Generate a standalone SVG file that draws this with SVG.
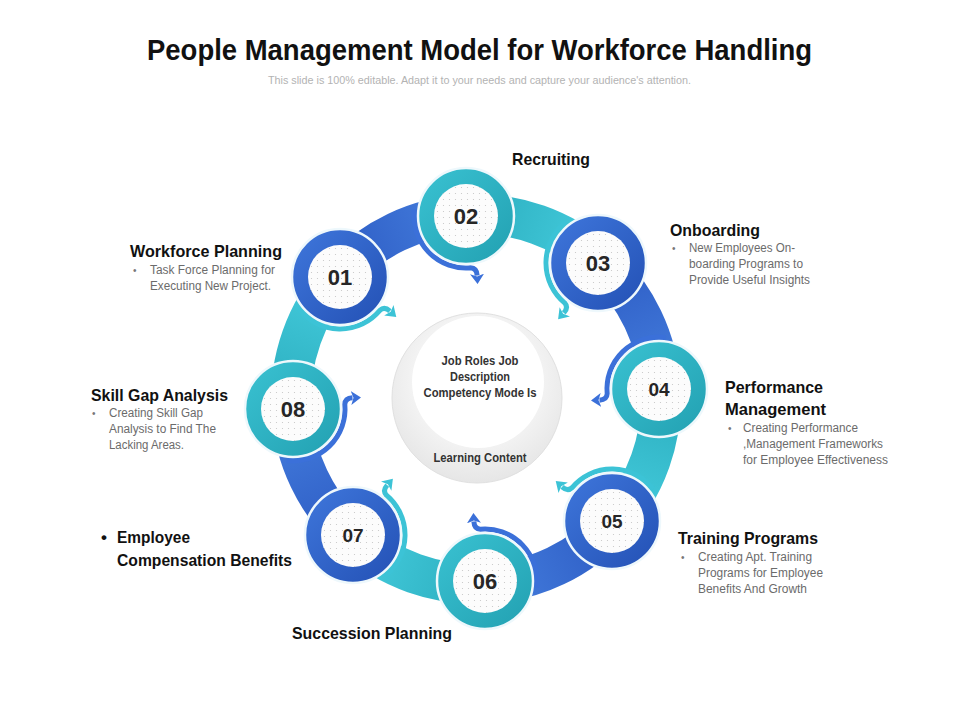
<svg xmlns="http://www.w3.org/2000/svg" width="960" height="720" viewBox="0 0 960 720">
  <defs>
    <style>
      .title{font-family:"Liberation Sans",Arial,sans-serif;font-weight:bold;fill:#111;}
      .sub{font-family:"Liberation Sans",Arial,sans-serif;font-size:11px;fill:#b3b3b3;}
      .head{font-family:"Liberation Sans",Arial,sans-serif;font-weight:bold;font-size:17px;fill:#111;}
      .body{font-family:"Liberation Sans",Arial,sans-serif;font-size:12px;fill:#6b6b6b;}
      .bul{font-family:"Liberation Sans",Arial,sans-serif;font-size:10px;fill:#777;}
      .ctr{font-family:"Liberation Sans",Arial,sans-serif;font-weight:bold;font-size:12px;fill:#333;}
      .num{font-family:"Liberation Sans",Arial,sans-serif;font-weight:bold;fill:#262626;text-anchor:middle;}
      .big{font-size:22px;}
      .small{font-size:19px;}
      .arrow{fill:none;stroke-width:5;stroke-linecap:butt;}
      .ab{stroke:#3b70d9;}
      .ac{stroke:#3cc3d6;}
      .ringb{fill:url(#gNodeB);stroke:#eef8fc;stroke-width:2.5;}
      .ringt{fill:url(#gNodeT);stroke:#eef8fc;stroke-width:2.5;}
      .inner{fill:#fcfcfc;}
      .dots{fill:url(#dotPat);}
    </style>
    <linearGradient id="gSegB" gradientUnits="userSpaceOnUse" x1="0" y1="320" x2="0" y2="478">
      <stop offset="0" stop-color="#2b59c2"/>
      <stop offset="1" stop-color="#4680df"/>
    </linearGradient>
    <linearGradient id="gSegC" gradientUnits="userSpaceOnUse" x1="0" y1="320" x2="0" y2="478">
      <stop offset="0" stop-color="#2aacbd"/>
      <stop offset="1" stop-color="#47cfe0"/>
    </linearGradient>
    <linearGradient id="gNodeB" x1="0" y1="0" x2="1" y2="1">
      <stop offset="0" stop-color="#3f77dc"/>
      <stop offset="1" stop-color="#2350b4"/>
    </linearGradient>
    <linearGradient id="gNodeT" x1="0" y1="0" x2="1" y2="1">
      <stop offset="0" stop-color="#3ac2d2"/>
      <stop offset="1" stop-color="#22a0b1"/>
    </linearGradient>
    <radialGradient id="gCenter" cx="0.5" cy="0.4" r="0.6">
      <stop offset="0.6" stop-color="#f4f4f4"/>
      <stop offset="1" stop-color="#e6e6e6"/>
    </radialGradient>
    <pattern id="dotPat" width="6" height="6" patternUnits="userSpaceOnUse">
      <circle cx="1.5" cy="1.5" r="0.6" fill="#c4c4c4"/>
    </pattern>
    <marker id="mB" markerWidth="11" markerHeight="14" refX="1.5" refY="7" orient="auto" markerUnits="userSpaceOnUse">
      <path d="M0,0 L10,7 L0,14 L2.5,7 Z" fill="#3b70d9"/>
    </marker>
    <marker id="mC" markerWidth="11" markerHeight="14" refX="1.5" refY="7" orient="auto" markerUnits="userSpaceOnUse">
      <path d="M0,0 L10,7 L0,14 L2.5,7 Z" fill="#3cc3d6"/>
    </marker>
    <path id="seg" d="M665.4,320.55 A205,205 0 0 1 665.4,477.45 L628.44,462.14 A165,165 0 0 0 628.44,335.86 Z"/>
    <path id="arr" d="M-9.03,51.21 A52,52 0 0 0 51.97,-1.81 Q52.5,-8 60,-8"/>
  </defs>

  <rect width="960" height="720" fill="#ffffff"/>

  <g id="title">
    <text class="title" x="147" y="60" font-size="30" textLength="665" lengthAdjust="spacingAndGlyphs">People Management Model for Workforce Handling</text>
    <text class="sub" x="268" y="84" textLength="423" lengthAdjust="spacingAndGlyphs">This slide is 100% editable. Adapt it to your needs and capture your audience's attention.</text>
  </g>

  <g id="center">
    <circle cx="477" cy="398" r="85" fill="url(#gCenter)" stroke="#e0e0e0" stroke-width="1"/>
    <circle cx="478" cy="382" r="66" fill="#ffffff"/>
    <text class="ctr" x="441.5" y="365" textLength="77" lengthAdjust="spacingAndGlyphs">Job Roles Job</text>
    <text class="ctr" x="450" y="381" textLength="60" lengthAdjust="spacingAndGlyphs">Description</text>
    <text class="ctr" x="423.5" y="397" textLength="113" lengthAdjust="spacingAndGlyphs">Competency Mode Is</text>
    <text class="ctr" x="433.5" y="462" textLength="93" lengthAdjust="spacingAndGlyphs">Learning Content</text>
  </g>

  <g id="connectors">
    <use href="#seg" fill="url(#gSegB)" transform="rotate(-115.5 476 399)"/>
    <use href="#seg" fill="url(#gSegC)" transform="rotate(-70.5 476 399)"/>
    <use href="#seg" fill="url(#gSegB)" transform="rotate(-25.5 476 399)"/>
    <use href="#seg" fill="url(#gSegC)" transform="rotate(19.5 476 399)"/>
    <use href="#seg" fill="url(#gSegB)" transform="rotate(64.5 476 399)"/>
    <use href="#seg" fill="url(#gSegC)" transform="rotate(109.5 476 399)"/>
    <use href="#seg" fill="url(#gSegB)" transform="rotate(154.5 476 399)"/>
    <use href="#seg" fill="url(#gSegC)" transform="rotate(199.5 476 399)"/>
    <!-- arrows toward center, colour of incoming band -->
    <path class="arrow ac" marker-end="url(#mC)" d="M-9.03,51.21 A52,52 0 0 0 51.97,-1.81 Q52.5,-8 60,-8" transform="translate(340,277) rotate(42)"/>
    <path class="arrow ab" marker-end="url(#mB)" d="M-9.03,51.21 A52,52 0 0 0 51.97,-1.81 Q52.5,-8 60,-8" transform="translate(466,216) rotate(87)"/>
    <path class="arrow ac" marker-end="url(#mC)" d="M-9.03,51.21 A52,52 0 0 0 51.97,-1.81 Q52.5,-8 60,-8" transform="translate(598,263) rotate(132)"/>
    <path class="arrow ab" marker-end="url(#mB)" d="M-9.03,51.21 A52,52 0 0 0 51.97,-1.81 Q52.5,-8 60,-8" transform="translate(659,389) rotate(177)"/>
    <path class="arrow ac" marker-end="url(#mC)" d="M-9.03,51.21 A52,52 0 0 0 51.97,-1.81 Q52.5,-8 60,-8" transform="translate(612,521) rotate(222)"/>
    <path class="arrow ab" marker-end="url(#mB)" d="M-9.03,51.21 A52,52 0 0 0 51.97,-1.81 Q52.5,-8 60,-8" transform="translate(485,581) rotate(267)"/>
    <path class="arrow ac" marker-end="url(#mC)" d="M-9.03,51.21 A52,52 0 0 0 51.97,-1.81 Q52.5,-8 60,-8" transform="translate(353,535) rotate(312)"/>
    <path class="arrow ab" marker-end="url(#mB)" d="M-9.03,51.21 A52,52 0 0 0 51.97,-1.81 Q52.5,-8 60,-8" transform="translate(293,409) rotate(357)"/>
  </g>

  <g id="node01" transform="translate(340,277)">
    <circle class="ringb" r="48"/>
    <circle class="inner" r="32"/><circle class="dots" r="32"/>
    <text class="num big" y="8">01</text>
  </g>
  <g id="node02" transform="translate(466,216)">
    <circle class="ringt" r="48"/>
    <circle class="inner" r="32"/><circle class="dots" r="32"/>
    <text class="num big" y="8">02</text>
  </g>
  <g id="node03" transform="translate(598,263)">
    <circle class="ringb" r="48"/>
    <circle class="inner" r="32"/><circle class="dots" r="32"/>
    <text class="num big" y="8">03</text>
  </g>
  <g id="node04" transform="translate(659,389)">
    <circle class="ringt" r="48"/>
    <circle class="inner" r="32"/><circle class="dots" r="32"/>
    <text class="num small" y="7">04</text>
  </g>
  <g id="node05" transform="translate(612,521)">
    <circle class="ringb" r="48"/>
    <circle class="inner" r="32"/><circle class="dots" r="32"/>
    <text class="num small" y="7">05</text>
  </g>
  <g id="node06" transform="translate(485,581)">
    <circle class="ringt" r="48"/>
    <circle class="inner" r="32"/><circle class="dots" r="32"/>
    <text class="num big" y="8">06</text>
  </g>
  <g id="node07" transform="translate(353,535)">
    <circle class="ringb" r="48"/>
    <circle class="inner" r="32"/><circle class="dots" r="32"/>
    <text class="num small" y="7">07</text>
  </g>
  <g id="node08" transform="translate(293,409)">
    <circle class="ringt" r="48"/>
    <circle class="inner" r="32"/><circle class="dots" r="32"/>
    <text class="num big" y="8">08</text>
  </g>

  <g id="labels">
    <text class="head" x="512" y="165" textLength="78" lengthAdjust="spacingAndGlyphs">Recruiting</text>

    <text class="head" x="670" y="236" textLength="90" lengthAdjust="spacingAndGlyphs">Onboarding</text>
    <text class="bul" x="672" y="252">•</text>
    <text class="body" x="689" y="252" textLength="106" lengthAdjust="spacingAndGlyphs">New Employees On-</text>
    <text class="body" x="689" y="268" textLength="114" lengthAdjust="spacingAndGlyphs">boarding Programs  to</text>
    <text class="body" x="689" y="284" textLength="121" lengthAdjust="spacingAndGlyphs">Provide Useful Insights</text>

    <text class="head" x="725" y="393" textLength="98" lengthAdjust="spacingAndGlyphs">Performance</text>
    <text class="head" x="725" y="415" textLength="101" lengthAdjust="spacingAndGlyphs">Management</text>
    <text class="bul" x="728" y="432">•</text>
    <text class="body" x="743" y="432" textLength="115" lengthAdjust="spacingAndGlyphs">Creating Performance</text>
    <text class="body" x="743" y="448" textLength="140" lengthAdjust="spacingAndGlyphs">,Management  Frameworks</text>
    <text class="body" x="743" y="464" textLength="145" lengthAdjust="spacingAndGlyphs">for Employee Effectiveness</text>

    <text class="head" x="678" y="544" textLength="140" lengthAdjust="spacingAndGlyphs">Training Programs</text>
    <text class="bul" x="681" y="561">•</text>
    <text class="body" x="698" y="561" textLength="114" lengthAdjust="spacingAndGlyphs">Creating Apt. Training</text>
    <text class="body" x="698" y="577" textLength="125" lengthAdjust="spacingAndGlyphs">Programs  for Employee</text>
    <text class="body" x="698" y="593" textLength="109" lengthAdjust="spacingAndGlyphs">Benefits And Growth</text>

    <text class="head" x="292" y="639" textLength="160" lengthAdjust="spacingAndGlyphs">Succession Planning</text>

    <text class="head" x="101" y="543">•</text>
    <text class="head" x="117" y="543" textLength="73" lengthAdjust="spacingAndGlyphs">Employee</text>
    <text class="head" x="117" y="566" textLength="175" lengthAdjust="spacingAndGlyphs">Compensation Benefits</text>

    <text class="head" x="91" y="401" textLength="137" lengthAdjust="spacingAndGlyphs">Skill Gap Analysis</text>
    <text class="bul" x="92" y="417">•</text>
    <text class="body" x="109" y="417" textLength="94" lengthAdjust="spacingAndGlyphs">Creating Skill Gap</text>
    <text class="body" x="109" y="433" textLength="107" lengthAdjust="spacingAndGlyphs">Analysis to Find The</text>
    <text class="body" x="109" y="449" textLength="75" lengthAdjust="spacingAndGlyphs">Lacking Areas.</text>

    <text class="head" x="130" y="257" textLength="152" lengthAdjust="spacingAndGlyphs">Workforce Planning</text>
    <text class="bul" x="133" y="274">•</text>
    <text class="body" x="150" y="274" textLength="125" lengthAdjust="spacingAndGlyphs">Task Force  Planning for</text>
    <text class="body" x="150" y="290" textLength="121" lengthAdjust="spacingAndGlyphs">Executing New Project.</text>
  </g>
</svg>
